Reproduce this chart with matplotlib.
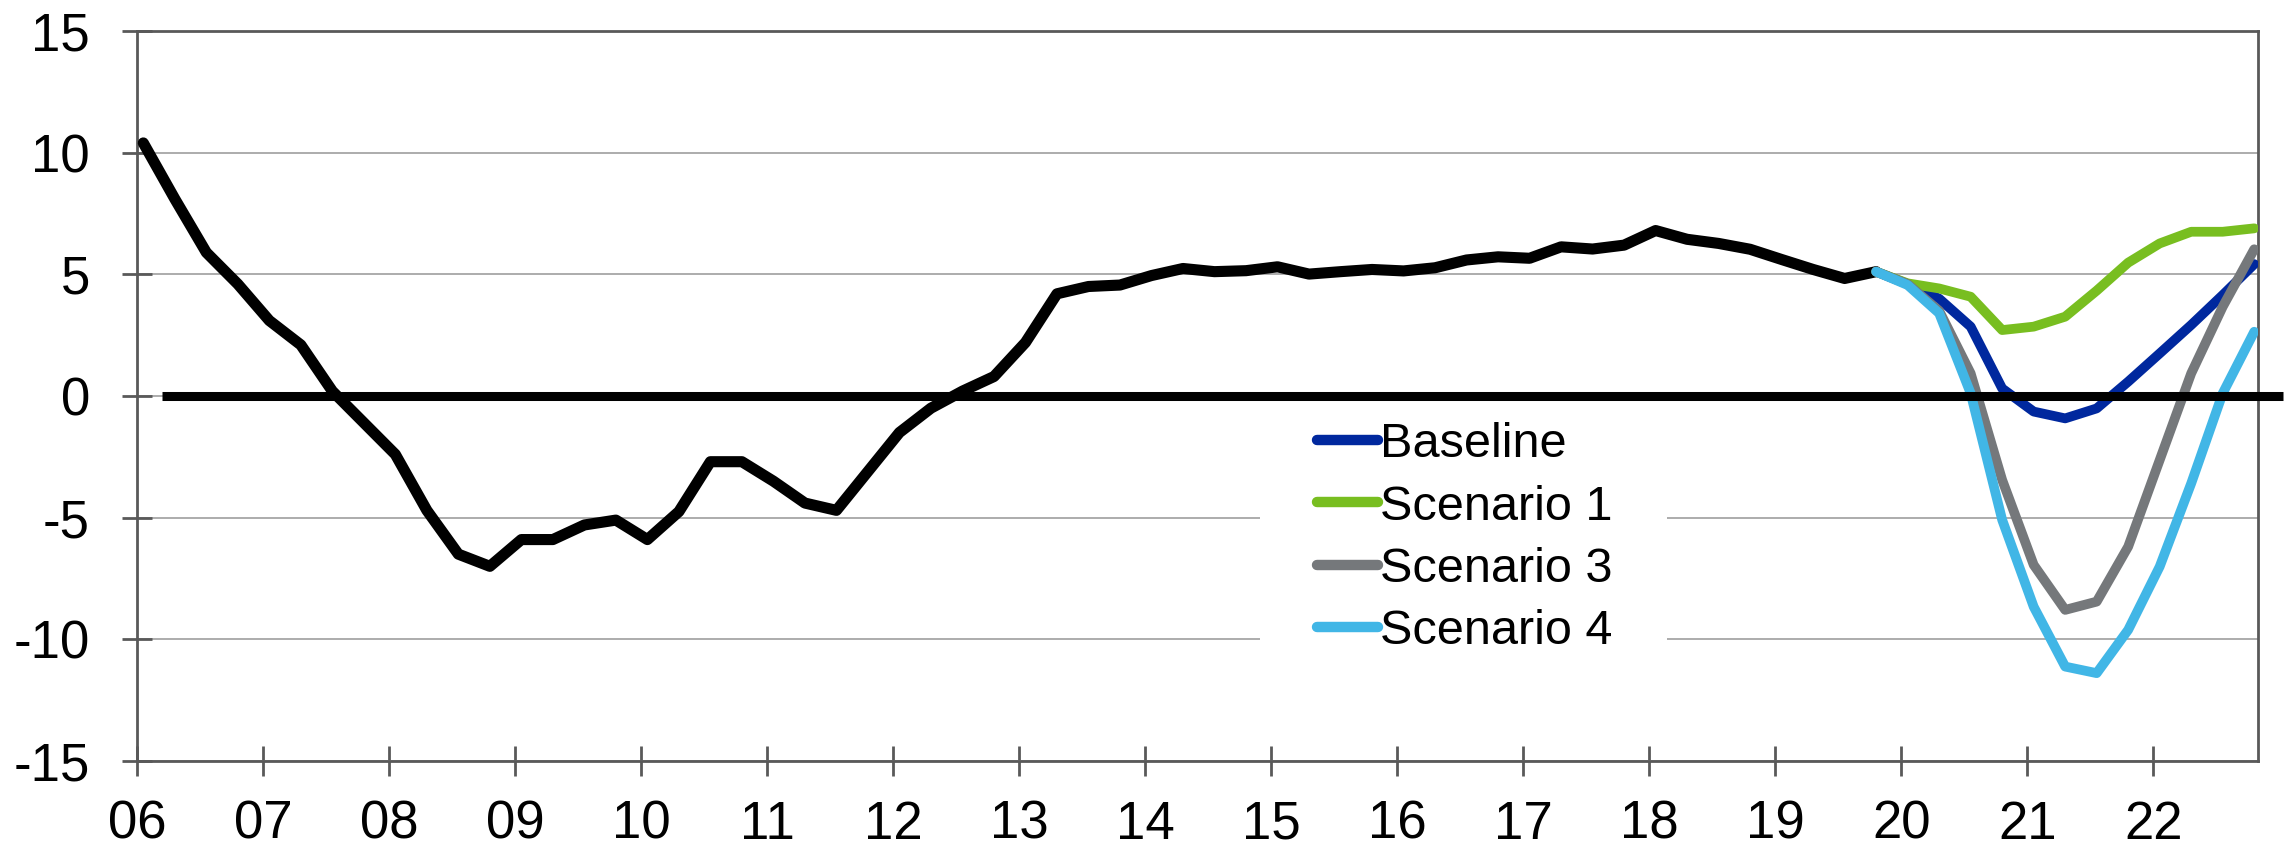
import numpy as np
import pandas as pd
import matplotlib
matplotlib.use("Agg")
import matplotlib.pyplot as plt
from matplotlib.patches import Rectangle

plt.rcParams['font.family'] = ['Liberation Sans', 'DejaVu Sans']
plt.rcParams['axes.unicode_minus'] = False

# ---------------- data ----------------
history = [10.4, 8.1, 5.9, 4.6, 3.1, 2.1, 0.2, -1.1, -2.4, -4.7, -6.5, -7.0,
           -5.9, -5.9, -5.3, -5.1, -5.9, -4.75, -2.7, -2.7, -3.5, -4.4, -4.7, -3.1,
           -1.5, -0.5, 0.2, 0.8, 2.2, 4.2, 4.5, 4.56, 4.95, 5.24, 5.11, 5.15,
           5.31, 5.01, 5.11, 5.2, 5.14, 5.27, 5.59, 5.72, 5.66, 6.13, 6.04, 6.2,
           6.8, 6.44, 6.27, 6.03, 5.61, 5.2, 4.83, 5.11]          # 2006Q1 - 2019Q4

baseline   = [5.11, 4.6, 4.0, 2.85, 0.31, -0.64, -0.92, -0.51, 0.59, 1.75, 2.92, 4.15, 5.42]
scenario_1 = [5.11, 4.63, 4.42, 4.08, 2.71, 2.85, 3.26, 4.33, 5.48, 6.27, 6.75, 6.75, 6.89]
scenario_3 = [5.11, 4.6, 3.5, 0.93, -3.45, -6.94, -8.79, -8.45, -6.19, -2.63, 0.93, 3.67, 6.03]
scenario_4 = [5.11, 4.56, 3.4, 0.11, -5.09, -8.66, -11.12, -11.39, -9.61, -7.01, -3.59, 0.11, 2.64]
# scenarios run 2019Q4 - 2022Q4

series_names = ["Baseline", "Scenario 1", "Scenario 3", "Scenario 4"]
series_colors = ["#00289E", "#78BE20", "#75787B", "#41B6E6"]

zero_line_x = [2006.2, 2023.03]
year_ticks = list(range(2006, 2023))
year_labels = [f"{y % 100:02d}" for y in year_ticks]
y_ticks = [-15, -10, -5, 0, 5, 10, 15]

# quarterly positions (fractional years)
quarters = pd.period_range("2006Q1", "2022Q4", freq="Q")
qx = np.array([p.year + (p.quarter - 1) / 4 + 0.05 for p in quarters])
hist_x = qx[:len(history)]
scen_x = qx[len(history) - 1:]

# ---------------- figure ----------------
fig = plt.figure(figsize=(22.95, 8.47), dpi=100)
ax = fig.add_axes([137 / 2295, 1 - 761 / 847, (2258 - 137) / 2295, (761 - 31) / 847])

ax.set_xlim(2006, 2022.83)
ax.set_ylim(-15, 15)
ax.set_axisbelow(True)
ax.yaxis.grid(True, color="#A6A6A6", linewidth=1.3)
ax.xaxis.grid(False)

for s in ax.spines.values():
    s.set_color("#595959")
    s.set_linewidth(2)

ax.set_xticks(year_ticks)
ax.set_xticklabels(year_labels)
ax.set_yticks(y_ticks)
ax.set_yticklabels([str(v) for v in y_ticks])
ax.tick_params(axis="both", direction="inout", length=22, width=2, color="#595959",
               labelsize=38, labelcolor="black")
ax.tick_params(axis="y", pad=23)
ax.tick_params(axis="x", pad=17)

# white box behind legend (hides gridlines)
box = Rectangle((1260 / 2295, 1 - 668 / 847), (1667 - 1260) / 2295, (668 - 412) / 847,
                transform=fig.transFigure, facecolor="white", edgecolor="none", zorder=1)
ax.add_patch(box)

ax.plot(hist_x, history, color="black", linewidth=8, solid_capstyle="round", zorder=3)

handles = []
for vals, name, col, z in zip([baseline, scenario_1, scenario_3, scenario_4],
                              series_names, series_colors, [3, 4, 5, 6]):
    h, = ax.plot(scen_x, vals, color=col, linewidth=7, solid_capstyle="round",
                 label=name, zorder=z)
    handles.append(h)

ax.plot(zero_line_x, [0, 0], color="black", linewidth=6.5, solid_capstyle="butt",
        clip_on=False, zorder=7)

leg = ax.legend(handles=handles, loc="upper left",
                bbox_to_anchor=(1317 / 2295, 1 - 422 / 847), bbox_transform=fig.transFigure,
                frameon=False, fontsize=35, borderpad=0, borderaxespad=0,
                handlelength=1.25, handletextpad=0.05, labelspacing=0.36)
for lh in leg.get_lines():
    lh.set_linewidth(7.5)
    lh.set_solid_capstyle("round")

fig.savefig("out.png", dpi=100)
